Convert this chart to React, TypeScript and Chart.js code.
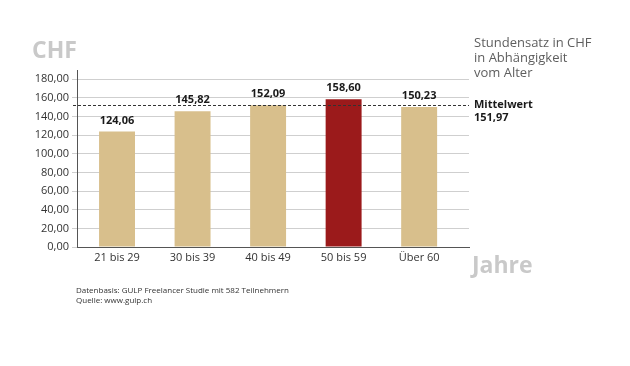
import React, { useEffect, useRef } from "react";
import { Chart, registerables } from "chart.js";

Chart.register(...registerables);

const categories = ["21 bis 29", "30 bis 39", "40 bis 49", "50 bis 59", "Über 60"];
const values = [124.06, 145.82, 152.09, 158.6, 150.23];
const valueLabels = ["124,06", "145,82", "152,09", "158,60", "150,23"];
const meanValue = 151.97;
const meanLabel = ["Mittelwert", "151,97"];
const yTicks = [0, 20, 40, 60, 80, 100, 120, 140, 160, 180];
const titleLines = ["Stundensatz in CHF", "in Abhängigkeit", "vom Alter"];
const footLines = ["Datenbasis: GULP Freelancer Studie mit 582 Teilnehmern", "Quelle: www.gulp.ch"];
const highlightIndex = 3;

const TAN = "rgb(216,191,140)";
const RED = "rgb(155,26,27)";
const FONT = "'Open Sans', 'Noto Sans', sans-serif";

const fmt = (v: number) => v.toFixed(2).replace(".", ",");

const overlay = {
  id: "overlay",
  afterDatasetsDraw(chart: any) {
    const ctx = chart.ctx;
    const y = chart.scales.y;
    const area = chart.chartArea;
    ctx.save();
    // mean line
    const my = Math.round(y.getPixelForValue(meanValue)) + 0.5;
    ctx.strokeStyle = "#333";
    ctx.lineWidth = 1;
    ctx.setLineDash([3, 2]);
    ctx.beginPath();
    ctx.moveTo(area.left - 4, my);
    ctx.lineTo(area.right, my);
    ctx.stroke();
    ctx.setLineDash([]);

    // value labels
    const meta = chart.getDatasetMeta(0);
    ctx.font = `bold 11px ${FONT}`;
    ctx.fillStyle = "#1a1a1a";
    ctx.textAlign = "center";
    ctx.textBaseline = "middle";
    meta.data.forEach((bar: any, i: number) => {
      ctx.fillText(valueLabels[i], bar.x, bar.y - 11);
    });

    // mean label
    ctx.textAlign = "left";
    ctx.font = `bold 11px ${FONT}`;
    ctx.fillText(meanLabel[0], 474, 105);
    ctx.fillText(meanLabel[1], 474, 118);

    // title
    ctx.font = `13px ${FONT}`;
    ctx.fillStyle = "#5e5e5e";
    titleLines.forEach((t, i) => ctx.fillText(t, 474, 43 + i * 15));

    // CHF / Jahre
    ctx.font = `bold 23px ${FONT}`;
    ctx.fillStyle = "#c9c9c9";
    ctx.textBaseline = "alphabetic";
    ctx.fillText("CHF", 32, 58);
    ctx.fillText("Jahre", 472, 273);

    // footnote
    ctx.font = `8px ${FONT}`;
    ctx.fillStyle = "#333";
    ctx.textBaseline = "middle";
    footLines.forEach((t, i) => ctx.fillText(t, 76, 291 + i * 10));
    ctx.restore();
  },
};

export default function App() {
  const ref = useRef<HTMLCanvasElement>(null);
  useEffect(() => {
    document.body.style.margin = "0";
    const chart = new Chart(ref.current!, {
      type: "bar",
      data: {
        datasets: [
          {
            data: values.map((v, i) => ({ x: i, y: v })),
            backgroundColor: values.map((_, i) => (i === highlightIndex ? RED : TAN)),
            barPercentage: 0.476,
            categoryPercentage: 1,
          },
        ],
      },
      plugins: [overlay],
      options: {
        animation: false,
        responsive: false,
        maintainAspectRatio: false,
        layout: { padding: { left: 0, right: 161, top: 70, bottom: 89 } },
        plugins: { legend: { display: false }, tooltip: { enabled: false } },
        scales: {
          x: {
            type: "linear",
            offset: false,
            min: -0.53,
            max: 4.66,
            afterBuildTicks: (s: any) => {
              s.ticks = categories.map((_, i) => ({ value: i }));
            },
            afterFit: (s: any) => {
              s.height = 30;
            },
            grid: { display: false, drawTicks: false, tickLength: 0 },
            border: { color: "#555", width: 1 },
            ticks: {
              padding: 4,
              color: "#333",
              font: { family: FONT, size: 11 },
              callback: (v: any) => categories[v] ?? "",
            },
          },
          y: {
            min: 0,
            max: 190,
            afterBuildTicks: (s: any) => {
              s.ticks = yTicks.map((v) => ({ value: v }));
            },
            afterFit: (s: any) => {
              s.width = 77;
            },
            grid: { color: "#cfcfcf", tickLength: 5, lineWidth: 1 },
            border: { color: "#555", width: 1 },
            ticks: {
              padding: 3,
              color: "#333",
              font: { family: FONT, size: 11 },
              callback: (v: any) => fmt(Number(v)),
            },
          },
        },
      },
    });
    return () => chart.destroy();
  }, []);
  return (
    <div style={{ position: "absolute", left: 0, top: 0, width: 630, height: 366, background: "#fff" }}>
      <canvas ref={ref} width={630} height={366} style={{ width: 630, height: 366 }} />
    </div>
  );
}
